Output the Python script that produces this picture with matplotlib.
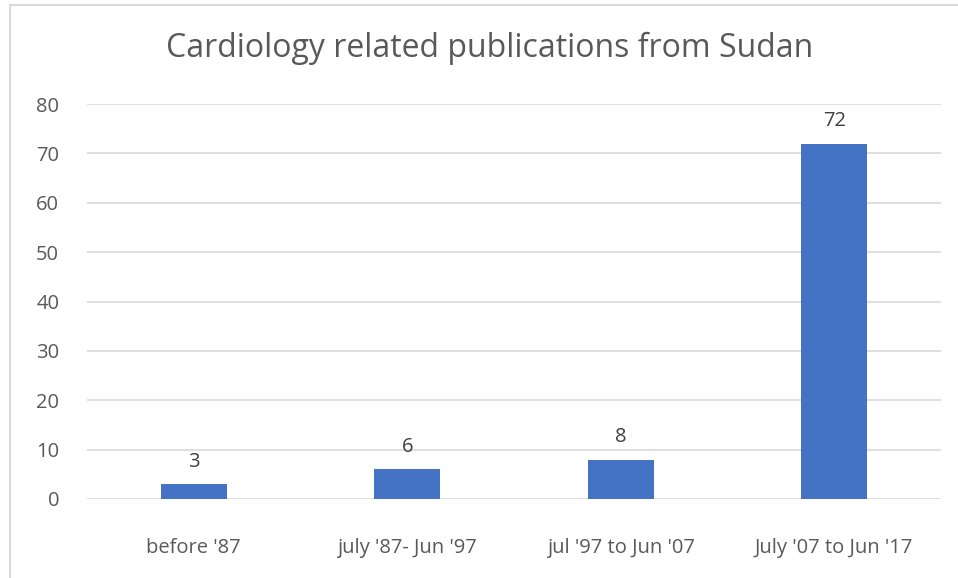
import matplotlib
matplotlib.use("Agg")
import matplotlib.pyplot as plt
from matplotlib.patches import Rectangle

categories = ["before '87", "july '87- Jun '97", "jul '97 to Jun '07", "July '07 to Jun '17"]
values = [3, 6, 8, 72]
yticks = [0, 10, 20, 30, 40, 50, 60, 70, 80]
title = "Cardiology related publications from Sudan"

plt.rcParams['font.family'] = ['Open Sans', 'DejaVu Sans']

W, H = 958, 578
fig = plt.figure(figsize=(W/100, H/100), dpi=100)
fig.patch.set_facecolor('white')

# outer chart border
fig.add_artist(Rectangle((10/W, -0.05), 1.1, 1 - 5/H + 0.05, transform=fig.transFigure,
                         fill=False, edgecolor='#d9d9d9', linewidth=1.5))

ax = fig.add_axes([87/W, 1 - 499/H, (941-87)/W, (499-104)/H])
x = list(range(len(categories)))
ax.bar(x, values, width=0.31, color='#4472c4', zorder=3)
ax.set_xlim(-0.5, len(categories) - 0.5)
ax.set_ylim(0, 80)
ax.set_yticks(yticks)
ax.set_xticks(x)
ax.set_xticklabels(categories)
for s in ax.spines.values():
    s.set_visible(False)
ax.grid(axis='y', color='#d9d9d9', linewidth=1.2, zorder=0)
ax.tick_params(axis='both', length=0, labelsize=14.5, colors='#595959')
ax.tick_params(axis='y', pad=20)
ax.tick_params(axis='x', pad=28)
for xi, v in zip(x, values):
    ax.text(xi, v + 2.5, str(v), ha='center', va='bottom', fontsize=14.5, color='#404040')

fig.text(490/W, 1 - 48/H, title, ha='center', va='center', fontsize=23, color='#595959')

fig.savefig("out.png", dpi=100)
